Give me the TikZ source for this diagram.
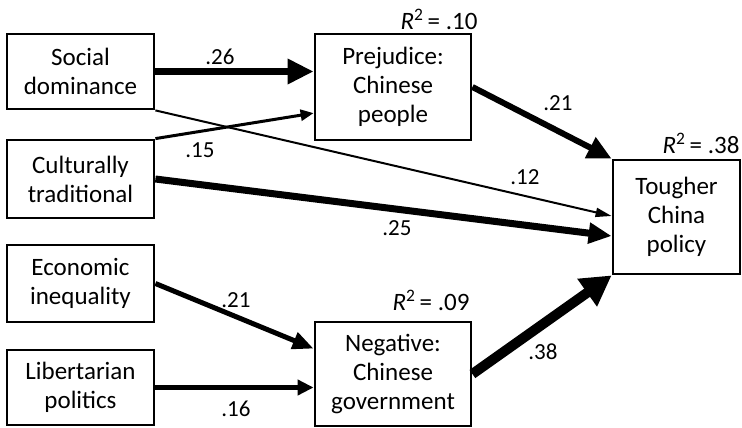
\documentclass[tikz,border=0pt]{standalone}
\usepackage{fontspec}
\setmainfont{Carlito}
\usetikzlibrary{arrows.meta,calc}
\begin{document}
\begin{tikzpicture}[x=1pt,y=-1pt,
  box/.style={draw,line width=2.8pt,align=center,inner sep=0pt,
    font=\fontsize{25}{29}\selectfont},
  lab/.style={inner sep=0pt,font=\fontsize{23}{26}\selectfont},
  rsq/.style={inner sep=0pt,font=\fontsize{25}{28}\selectfont},
]
\useasboundingbox (0,0) rectangle (742,428);
\fill[white] (0,0) rectangle (742,428);
% nodes
\node[box,minimum width=147pt,minimum height=75pt] (soc) at (80.5,71.5) {Social\\dominance};
\node[box,minimum width=147pt,minimum height=78pt] (cul) at (80.5,179) {Culturally\\traditional};
\node[box,minimum width=147pt,minimum height=77pt] (eco) at (80.5,283.5) {Economic\\inequality};
\node[box,minimum width=147pt,minimum height=75pt] (lib) at (80.5,387.5) {Libertarian\\politics};
\node[box,minimum width=156pt,minimum height=106pt] (prej) at (393,87) {Prejudice:\\Chinese\\people};
\node[box,minimum width=156pt,minimum height=104pt] (neg) at (393,374) {Negative:\\Chinese\\government};
\node[box,minimum width=127pt,minimum height=114pt] (tough) at (676.5,217) {Tougher\\China\\policy};
% R^2 labels
\node[rsq] (r1) at (439,19) {\textit{R}\textsuperscript{2}\,= .10};
\node[rsq] (r2) at (701,143) {\textit{R}\textsuperscript{2}\,= .38};
\node[rsq] (r3) at (431,300) {\textit{R}\textsuperscript{2}\,= .09};
% connectors
\draw[line width=7pt,-{Triangle[length=26pt,width=24pt]}] (soc.east) -- (soc.east -| prej.west);
\draw[line width=2pt,-{Triangle[length=16pt,width=9pt]}] (soc.south east) -- ($(tough.west)+(0,-1)$);
\draw[line width=3pt,-{Triangle[length=13pt,width=11pt]}] (cul.north east) -- ($(prej.south west)!0.26!(prej.north west)$);
\draw[line width=7pt,-{Triangle[length=23pt,width=20pt]}] (cul.east) -- ($(tough.west)+(0,19)$);
\draw[line width=6pt,-{Triangle[length=24pt,width=22pt]}] (prej.east) -- (tough.north west);
\draw[line width=5pt,-{Triangle[length=21pt,width=17pt]}] (eco.east) -- ($(neg.north west)+(0,28)$);
\draw[line width=4.5pt,-{Triangle[length=16pt,width=15pt]}] (lib.east) -- (lib.east -| neg.west);
\draw[line width=10pt,-{Triangle[length=30pt,width=32pt]}] (neg.east) -- (tough.south west);
% edge labels
\node[lab] (l1) at (220,57) {.26};
\node[lab] (l2) at (200,150) {.15};
\node[lab] (l3) at (558,103) {.21};
\node[lab] (l4) at (525,177) {.12};
\node[lab] (l5) at (397,228) {.25};
\node[lab] (l6) at (236,300) {.21};
\node[lab] (l7) at (236,409) {.16};
\node[lab] (l8) at (543,352) {.38};
\end{tikzpicture}
\end{document}
